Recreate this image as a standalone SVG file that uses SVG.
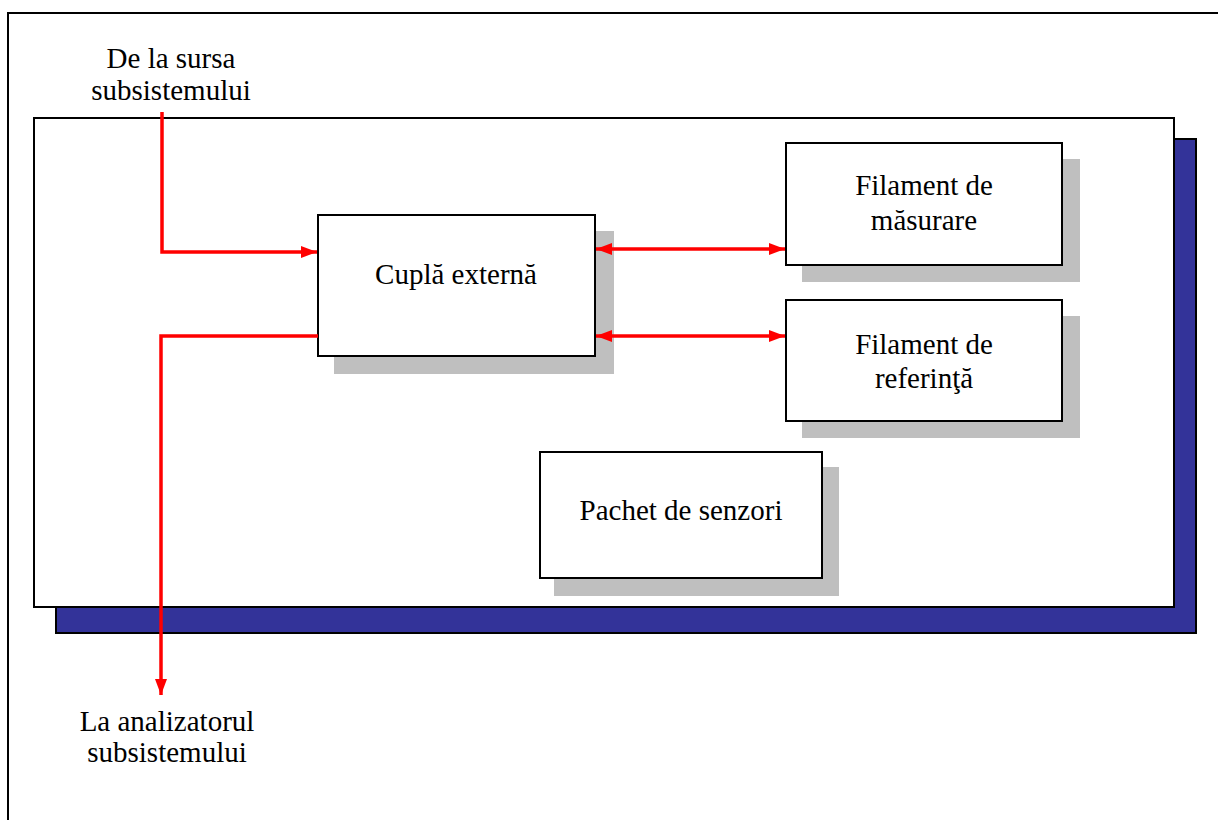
<svg xmlns="http://www.w3.org/2000/svg" width="1218" height="820" viewBox="0 0 1218 820">
  <style>
    .frame { fill: none; stroke: #000; stroke-width: 2; }
    .box { fill: #fff; stroke: #000; stroke-width: 2; }
    .shadow { fill: #bfbfbf; }
    .wire { fill: none; stroke: #ff0000; stroke-width: 3.5; }
    text { font-family: "Liberation Serif", "Times New Roman", serif; font-size: 29px; fill: #000; text-anchor: middle; }
  </style>
  <defs>
    <marker id="head" viewBox="0 0 16 12" refX="16" refY="6" markerWidth="16" markerHeight="12" markerUnits="userSpaceOnUse" orient="auto-start-reverse">
      <path d="M0,0 L16,6 L0,12 Z" fill="#ff0000"/>
    </marker>
  </defs>

  <rect x="0" y="0" width="1218" height="820" fill="#fff"/>
  <!-- outer page frame -->
  <rect class="frame" x="8" y="13" width="1230" height="830"/>

  <!-- subsystem enclosure with blue drop shadow -->
  <g id="subsystem">
    <rect x="56" y="139" width="1140" height="494" fill="#333399" stroke="#000" stroke-width="2"/>
    <rect class="box" x="34" y="118" width="1140" height="489"/>
  </g>

  <g id="cupla">
    <rect class="shadow" x="334" y="231" width="280" height="143"/>
    <rect class="box" x="318" y="215" width="277" height="141"/>
    <text x="456" y="284">Cuplă externă</text>
  </g>

  <g id="filament-masurare">
    <rect class="shadow" x="802" y="159" width="278" height="123"/>
    <rect class="box" x="786" y="143" width="276" height="122"/>
    <text x="924" y="195">Filament de</text>
    <text x="924" y="230">măsurare</text>
  </g>

  <g id="filament-referinta">
    <rect class="shadow" x="802" y="316" width="278" height="122"/>
    <rect class="box" x="786" y="300" width="276" height="121"/>
    <text x="924" y="354">Filament de</text>
    <text x="924" y="388">referinţă</text>
  </g>

  <g id="pachet">
    <rect class="shadow" x="554" y="467" width="285" height="129"/>
    <rect class="box" x="540" y="452" width="282" height="126"/>
    <text x="681" y="520">Pachet de senzori</text>
  </g>

  <g id="labels">
    <text x="171" y="68">De la sursa</text>
    <text x="171" y="100">subsistemului</text>
    <text x="167" y="731">La analizatorul</text>
    <text x="167" y="762">subsistemului</text>
  </g>

  <g id="connectors">
    <path class="wire" d="M162,112 V252 H317" marker-end="url(#head)"/>
    <path class="wire" d="M318,336 H161 V695" marker-end="url(#head)"/>
    <path class="wire" d="M596,249 H785" marker-start="url(#head)" marker-end="url(#head)"/>
    <path class="wire" d="M596,336 H785" marker-start="url(#head)" marker-end="url(#head)"/>
  </g>
</svg>
